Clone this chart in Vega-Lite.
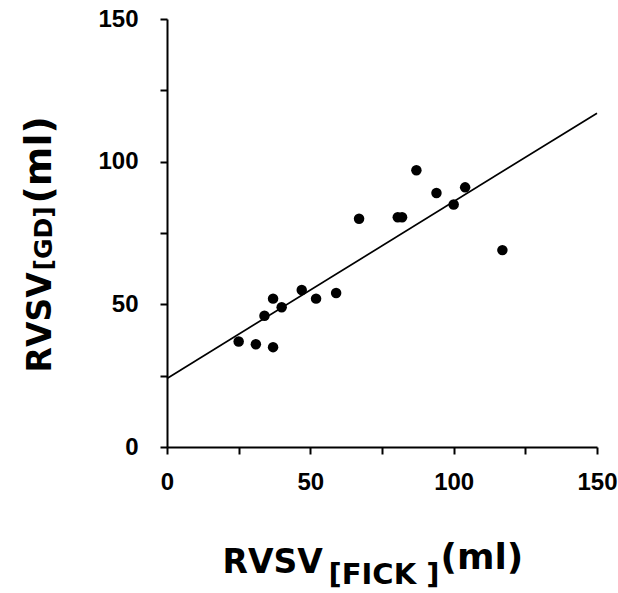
{
  "$schema": "https://vega.github.io/schema/vega-lite/v6.json",
  "width": 430,
  "height": 428,
  "autosize": {"type": "none"},
  "padding": {"left": 167, "top": 19, "right": 21, "bottom": 146},
  "background": "white",
  "datasets": {
    "points": [
      {"fick": 25, "gd": 37},
      {"fick": 31, "gd": 36},
      {"fick": 37, "gd": 35},
      {"fick": 34, "gd": 46},
      {"fick": 37, "gd": 52},
      {"fick": 40, "gd": 49},
      {"fick": 47, "gd": 55},
      {"fick": 52, "gd": 52},
      {"fick": 59, "gd": 54},
      {"fick": 67, "gd": 80},
      {"fick": 80.5, "gd": 80.5},
      {"fick": 82, "gd": 80.5},
      {"fick": 87, "gd": 97},
      {"fick": 94, "gd": 89},
      {"fick": 100, "gd": 85},
      {"fick": 104, "gd": 91},
      {"fick": 117, "gd": 69}
    ],
    "fit": [
      {"fick": 0, "gd": 24},
      {"fick": 150, "gd": 117}
    ],
    "none": []
  },
  "config": {
    "view": {"stroke": null},
    "axis": {
      "grid": false,
      "domainColor": "black",
      "domainWidth": 2,
      "tickColor": "black",
      "tickWidth": 2,
      "tickSize": 7,
      "labelFont": "Liberation Sans",
      "labelFontWeight": "bold",
      "labelFontSize": 24,
      "labelColor": "black",
      "titleFont": "DejaVu Sans",
      "titleFontWeight": "bold",
      "titleColor": "black",
      "titleFontSize": 33
    }
  },
  "resolve": {"axis": {"x": "independent", "y": "independent"}},
  "layer": [
    {
      "data": {"name": "fit"},
      "mark": {"type": "line", "color": "black", "strokeWidth": 1.7, "clip": false},
      "encoding": {
        "x": {
          "field": "fick", "type": "quantitative",
          "scale": {"domain": [0, 150], "nice": false, "zero": false},
          "axis": {
            "orient": "bottom",
            "values": [0, 25, 50, 75, 100, 125, 150],
            "labelExpr": "datum.value % 50 == 0 ? datum.label : ''",
            "labelPadding": 16,
            "labelFlush": false,
            "labelOverlap": false,
            "title": "RVSV",
            "titleX": 55, "titleY": 125,
            "titleAlign": "left", "titleBaseline": "alphabetic", "titleAngle": 0
          }
        },
        "y": {
          "field": "gd", "type": "quantitative",
          "scale": {"domain": [0, 150], "nice": false, "zero": false},
          "axis": {
            "orient": "left",
            "values": [0, 25, 50, 75, 100, 125, 150],
            "labelExpr": "datum.value % 50 == 0 ? datum.label : ''",
            "labelPadding": 22,
            "labelFlush": false,
            "labelOverlap": false,
            "title": "RVSV",
            "titleX": -117, "titleY": 353,
            "titleAlign": "left", "titleBaseline": "alphabetic", "titleAngle": -90
          }
        }
      }
    },
    {
      "data": {"name": "points"},
      "mark": {"type": "circle", "color": "black", "opacity": 1, "size": 110},
      "encoding": {
        "x": {
          "field": "fick", "type": "quantitative",
          "scale": {"domain": [0, 150], "nice": false, "zero": false},
          "axis": {
            "orient": "bottom", "domain": false, "ticks": false, "labels": false,
            "title": "[FICK ]", "titleFontSize": 29,
            "titleX": 161, "titleY": 136,
            "titleAlign": "left", "titleBaseline": "alphabetic", "titleAngle": 0
          }
        },
        "y": {
          "field": "gd", "type": "quantitative",
          "scale": {"domain": [0, 150], "nice": false, "zero": false},
          "axis": {
            "orient": "left", "domain": false, "ticks": false, "labels": false,
            "title": "[GD]", "titleFontSize": 25,
            "titleX": -116, "titleY": 251,
            "titleAlign": "left", "titleBaseline": "alphabetic", "titleAngle": -90
          }
        }
      }
    },
    {
      "data": {"name": "none"},
      "mark": {"type": "point"},
      "encoding": {
        "x": {
          "field": "fick", "type": "quantitative",
          "scale": {"domain": [0, 150], "nice": false, "zero": false},
          "axis": {
            "orient": "bottom", "domain": false, "ticks": false, "labels": false,
            "title": "(ml)", "titleFontSize": 36,
            "titleX": 273, "titleY": 121,
            "titleAlign": "left", "titleBaseline": "alphabetic", "titleAngle": 0
          }
        },
        "y": {
          "field": "gd", "type": "quantitative",
          "scale": {"domain": [0, 150], "nice": false, "zero": false},
          "axis": {
            "orient": "left", "domain": false, "ticks": false, "labels": false,
            "title": "(ml)", "titleFontSize": 38,
            "titleX": -117, "titleY": 184,
            "titleAlign": "left", "titleBaseline": "alphabetic", "titleAngle": -90
          }
        }
      }
    }
  ]
}
